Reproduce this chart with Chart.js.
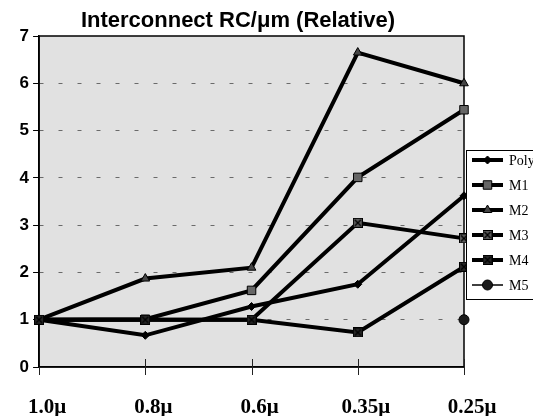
<!DOCTYPE html>
<html>
<head>
<meta charset="utf-8">
<script src="https://cdn.jsdelivr.net/npm/chart.js@4.4.1/dist/chart.umd.min.js"></script>
<style>
  html, body { margin: 0; padding: 0; background: #fff; }
  #wrap { width: 533px; height: 416px; position: relative; }
</style>
</head>
<body>
<div id="wrap"><canvas id="c" width="533" height="416"></canvas></div>
<script>
// Feature sizes along the x axis
const categories = ['1.0\u03bc', '0.8\u03bc', '0.6\u03bc', '0.35\u03bc', '0.25\u03bc'];
// Relative RC per micron for each layer
const seriesNames = ['Poly', 'M1', 'M2', 'M3', 'M4', 'M5'];
const polyValues = [1, 0.67, 1.28, 1.75, 3.62];
const m1Values = [1, 1.01, 1.62, 4.01, 5.44];
const m2Values = [1, 1.87, 2.10, 6.65, 6.00];
const m3Values = [1, 1.00, 1.00, 3.05, 2.72];
const m4Values = [1, 1.00, 1.00, 0.73, 2.12];
const m5Values = [null, null, null, null, 1.00];
const yTicks = [0, 1, 2, 3, 4, 5, 6, 7];
const titleText = 'Interconnect RC/\u03bcm (Relative)';

// Square marker with a cross through it
function crossSquare(fill) {
  const s = 10;
  const cv = document.createElement('canvas');
  cv.width = s; cv.height = s;
  const g = cv.getContext('2d');
  g.fillStyle = fill;
  g.fillRect(0.5, 0.5, s - 1, s - 1);
  g.strokeStyle = '#000';
  g.lineWidth = 1;
  g.strokeRect(0.5, 0.5, s - 1, s - 1);
  g.lineWidth = 1.3;
  g.beginPath();
  g.moveTo(2, 2); g.lineTo(s - 2, s - 2);
  g.moveTo(s - 2, 2); g.lineTo(2, s - 2);
  g.stroke();
  return cv;
}
const m3Marker = crossSquare('#5a5a5a');
const m4Marker = crossSquare('#262626');

function ds(label, data, style, radius, fill, order, width) {
  return {
    label, data, order,
    borderColor: '#000',
    borderWidth: width,
    pointStyle: style,
    pointRadius: radius,
    pointBackgroundColor: fill,
    pointBorderColor: '#000',
    pointBorderWidth: 1,
    tension: 0,
    spanGaps: false,
    clip: false
  };
}

const datasets = [
  ds(seriesNames[0], polyValues, 'rectRot', 4, '#000', 5, 4),
  ds(seriesNames[1], m1Values, 'rect', 6, '#666', 4, 4),
  ds(seriesNames[2], m2Values, 'triangle', 5, '#444', 3, 4),
  ds(seriesNames[3], m3Values, m3Marker, 5, '#5a5a5a', 2, 4),
  ds(seriesNames[4], m4Values, m4Marker, 5, '#262626', 1, 4),
  ds(seriesNames[5], m5Values, 'circle', 5, '#1a1a1a', 0, 1.5)
];

const frame = {
  id: 'frame',
  beforeDraw(chart) {
    const { ctx, chartArea: a } = chart;
    ctx.save();
    ctx.fillStyle = '#e1e1e1';
    ctx.fillRect(a.left, a.top, a.right - a.left, a.bottom - a.top);
    ctx.restore();
  },
  beforeDatasetsDraw(chart) {
    const { ctx, chartArea: a } = chart;
    const xs = chart.scales.x;
    ctx.save();
    ctx.setLineDash([]);
    ctx.strokeStyle = '#000';
    ctx.lineWidth = 1.5;
    ctx.strokeRect(a.left, a.top, a.right - a.left, a.bottom - a.top);
    ctx.lineWidth = 1;
    ctx.strokeStyle = '#222';
    for (let i = 1; i < categories.length; i++) {
      const x = Math.round(xs.getPixelForTick(i)) + 0.5;
      ctx.beginPath();
      ctx.moveTo(x, a.bottom - 8);
      ctx.lineTo(x, a.bottom + 8);
      ctx.stroke();
    }
    const x0 = Math.round(xs.getPixelForTick(0)) + 0.5;
    ctx.beginPath();
    ctx.moveTo(x0, a.bottom);
    ctx.lineTo(x0, a.bottom + 8);
    ctx.stroke();
    ctx.restore();
  },
  afterDraw(chart) {
    const { ctx } = chart;
    ctx.save();
    // title
    ctx.fillStyle = '#000';
    ctx.font = 'bold 22px "Liberation Sans", Arial, sans-serif';
    ctx.textAlign = 'center';
    ctx.textBaseline = 'alphabetic';
    ctx.fillText(titleText, 238, 27);

    // legend box
    const bx = 466, by = 150, bh = 149;
    ctx.fillStyle = '#fff';
    ctx.fillRect(bx, by, 100, bh);
    ctx.strokeStyle = '#000';
    ctx.lineWidth = 1;
    ctx.strokeRect(bx + 0.5, by + 0.5, 100, bh);
    ctx.font = '14px "Liberation Serif", "Times New Roman", serif';
    ctx.textAlign = 'left';
    ctx.textBaseline = 'middle';
    chart.data.datasets.forEach((d, i) => {
      const y = 160 + i * 25;
      ctx.strokeStyle = '#000';
      ctx.lineWidth = d.borderWidth;
      ctx.beginPath();
      ctx.moveTo(472, y);
      ctx.lineTo(503, y);
      ctx.stroke();
      ctx.fillStyle = d.pointBackgroundColor;
      ctx.strokeStyle = '#000';
      ctx.lineWidth = 1;
      Chart.helpers.drawPoint(ctx, {
        pointStyle: d.pointStyle,
        rotation: 0,
        radius: d.pointRadius,
        borderWidth: 1
      }, 487.5, y);
      ctx.fillStyle = '#000';
      ctx.fillText(d.label, 509, y + 1);
    });
    ctx.restore();
  }
};

new Chart(document.getElementById('c'), {
  type: 'line',
  data: { labels: categories, datasets },
  plugins: [frame],
  options: {
    responsive: false,
    animation: false,
    layout: { padding: { top: 36, right: 69, left: 0, bottom: 0 } },
    plugins: {
      legend: { display: false },
      title: { display: false },
      tooltip: { enabled: false }
    },
    scales: {
      x: {
        offset: false,
        grid: { display: false },
        border: { display: true, color: '#000', width: 1.5 },
        ticks: {
          color: '#000',
          font: { family: '"Liberation Serif", "Times New Roman", serif', size: 21, weight: 'bold' },
          padding: 20,
          labelOffset: 8,
          maxRotation: 0,
          autoSkip: false
        },
        afterFit(s) { s.height = 49; }
      },
      y: {
        min: 0,
        max: 7,
        afterBuildTicks(s) { s.ticks = yTicks.map(v => ({ value: v })); },
        grid: {
          color: c => (c.tick && (c.tick.value === 0 || c.tick.value === 7)) ? 'rgba(0,0,0,0)' : '#6a6a6a',
          lineWidth: 1,
          borderDash: [4, 15],
          tickColor: '#000',
          tickBorderDash: [],
          tickLength: 6
        },
        border: { display: true, color: '#000', width: 1.5, dash: [4, 15] },
        ticks: {
          color: '#000',
          font: { family: '"Liberation Sans", Arial, sans-serif', size: 17, weight: 'bold' },
          padding: 4
        },
        afterFit(s) { s.width = 35; }
      }
    }
  }
});
</script>
</body>
</html>
